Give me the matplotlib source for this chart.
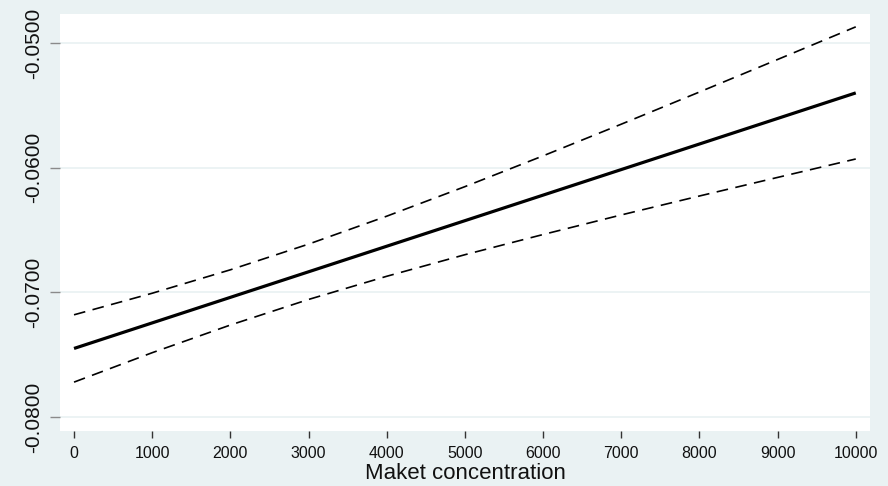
import numpy as np
import matplotlib
matplotlib.use('Agg')
import matplotlib.pyplot as plt

# market concentration grid and predicted marginal effect with 95% bounds
concentration = [0, 1000, 2000, 3000, 4000, 5000, 6000, 7000, 8000, 9000, 10000]
effect = [-0.0745, -0.07245, -0.0704, -0.06835, -0.0663, -0.06425,
          -0.0622, -0.06015, -0.0581, -0.05605, -0.0540]
upper = [-0.0718, -0.07007, -0.06819, -0.06613, -0.06389, -0.06152,
         -0.05905, -0.05651, -0.05393, -0.05132, -0.0487]
lower = [-0.0772, -0.07484, -0.07262, -0.07057, -0.06871, -0.06698,
         -0.06536, -0.06379, -0.06227, -0.06078, -0.0593]

xticks = [0, 1000, 2000, 3000, 4000, 5000, 6000, 7000, 8000, 9000, 10000]
yticks = [-0.08, -0.07, -0.06, -0.05]
ytick_labels = ['-0.0800', '-0.0700', '-0.0600', '-0.0500']

plt.rcParams['font.family'] = ['Liberation Sans', 'DejaVu Sans']

bg = '#eaf2f3'
fig = plt.figure(figsize=(8.88, 4.86), dpi=100, facecolor=bg)
ax = fig.add_axes([0.0676, 0.1132, 0.9122, 0.858])
ax.set_facecolor('white')

ax.plot(concentration, effect, color='black', lw=2.3, solid_capstyle='butt')
ax.plot(concentration, upper, color='black', lw=1.2, dashes=(7, 4.5))
ax.plot(concentration, lower, color='black', lw=1.2, dashes=(7, 4.5))

ax.set_xlim(-179, 10183)
ax.set_ylim(-0.08112, -0.04767)

ax.set_yticks(yticks)
ax.set_yticklabels(ytick_labels, rotation=90, va='center', fontsize=15, color='#111111')
ax.set_xticks(xticks)
ax.set_xticklabels([str(v) for v in xticks], fontsize=11.5, color='#111111')

ax.tick_params(axis='y', length=7, width=1.0, color='#8a8a8a', pad=5)
ax.tick_params(axis='x', length=5, width=1.0, color='#333333', pad=6)

ax.grid(axis='y', color=bg, lw=1.3)
ax.set_axisbelow(True)
for s in ax.spines.values():
    s.set_visible(False)

ax.set_xlabel('Maket concentration', fontsize=16, color='#111111', labelpad=1)

fig.savefig('out.png', dpi=100, facecolor=bg)
